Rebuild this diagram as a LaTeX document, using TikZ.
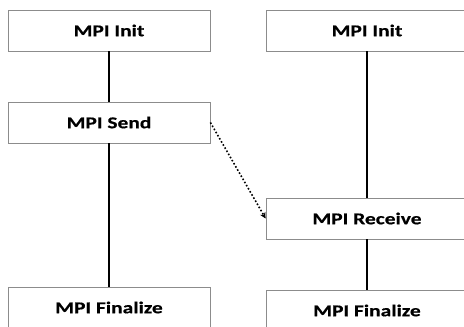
\documentclass[tikz,border=0pt]{standalone}
\usepackage{fontspec}
\setmainfont{Carlito}
\newfontfamily\boxfont[FakeStretch=1.3,FakeBold=0.5]{Carlito}
\usetikzlibrary{arrows.meta}
\tikzset{
  box/.style={draw=black!45, line width=0.8pt, fill=white, minimum width=202pt, minimum height=41pt,
    inner sep=0pt, font=\boxfont\bfseries\fontsize{16.5}{18}\selectfont},
  flow/.style={line width=2.8pt},
  msg/.style={line width=1.6pt, dotted, -{Stealth[length=6pt,width=6pt]}}
}
\begin{document}
\begin{tikzpicture}[x=1pt, y=1pt]
  \useasboundingbox (0,0) rectangle (464,-327);
  %nodes
  \node[box] at (109,-30.5) (initA) {MPI Init};
  \node[box] at (109,-122.5) (send) {MPI Send};
  \node[box] at (109,-307.5) (finA) {MPI Finalize};
  \node[box] at (367,-30.5) (initB) {MPI Init};
  \node[box] at (367,-218.5) (recv) {MPI Receive};
  \node[box] at (367,-310.5) (finB) {MPI Finalize};
  \path
    (initA.south) edge[flow] (send.north)
    (send.south) edge[flow] (finA.north)
    (initB.south) edge[flow] (recv.north)
    (recv.south) edge[flow] (finB.north)
    (send.east) edge[msg] (recv.west);
\end{tikzpicture}
\end{document}
